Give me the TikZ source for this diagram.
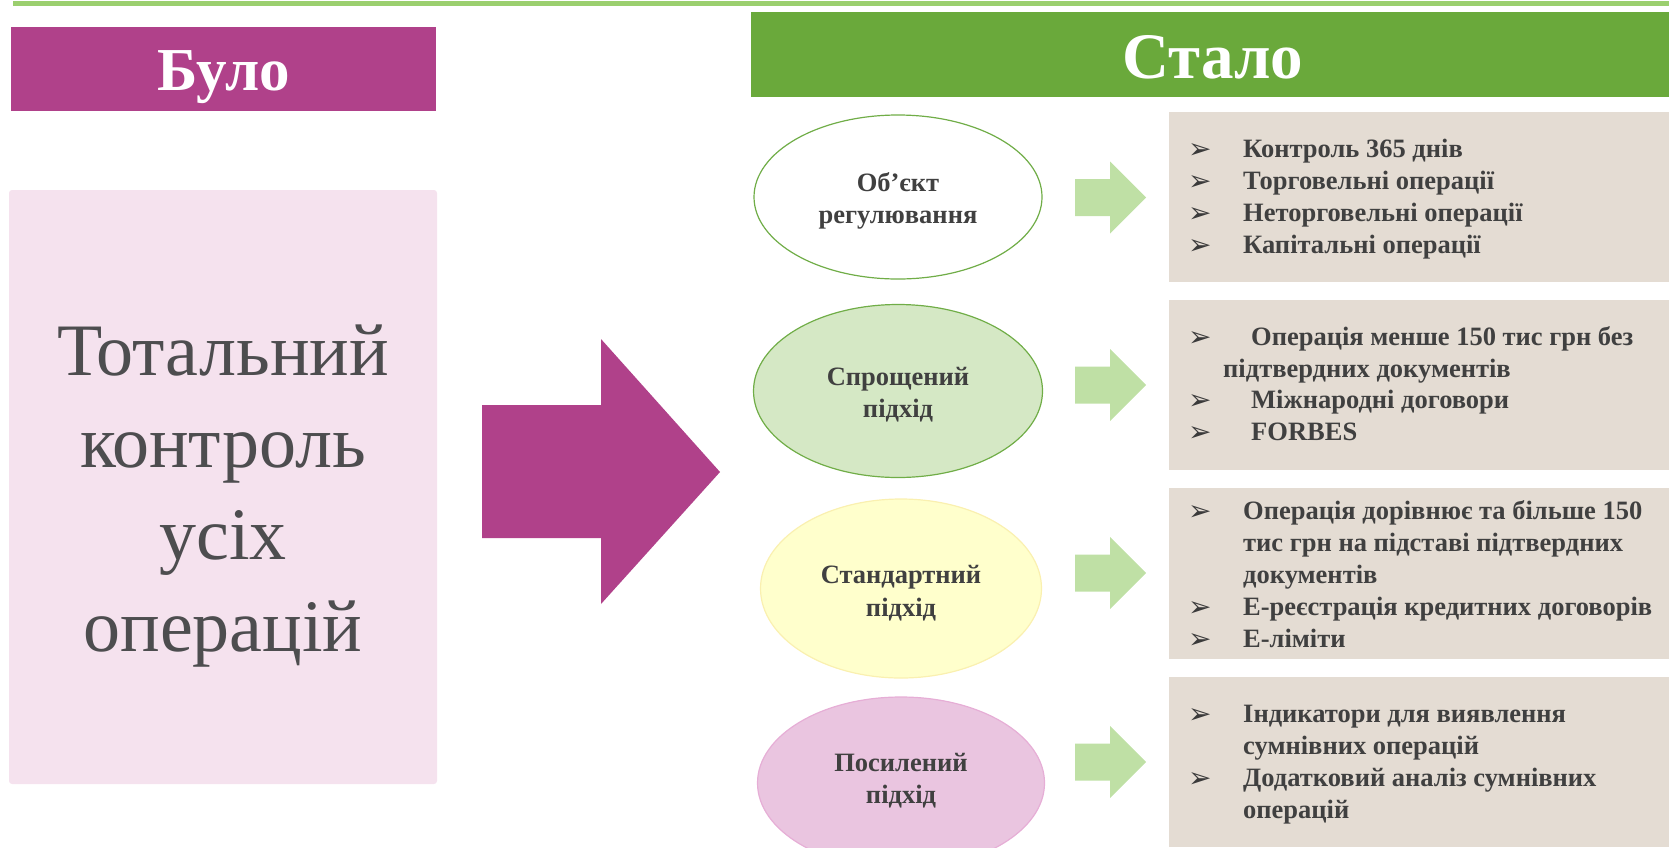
\documentclass[tikz,border=0pt]{standalone}
\usepackage{fontspec}
\setmainfont{Liberation Serif}
\newfontfamily\symfont{DejaVu Sans}
\usetikzlibrary{shapes.geometric}
\definecolor{berry}{HTML}{B0418A}
\definecolor{hdrgreen}{HTML}{6AA93B}
\definecolor{topline}{HTML}{9BCF6F}
\definecolor{pinkbg}{HTML}{F5E2EE}
\definecolor{txtgray}{HTML}{4D4D4F}
\definecolor{dark}{HTML}{404040}
\definecolor{beige}{HTML}{E4DCD3}
\definecolor{arrgreen}{HTML}{BFE0A5}
\definecolor{elgreen}{HTML}{70AD47}
\definecolor{elgreenfill}{HTML}{D5E8C5}
\definecolor{elyellow}{HTML}{FFFFCC}
\definecolor{elyellowdraw}{HTML}{FAF0B0}
\definecolor{elpink}{HTML}{EAC5E0}
\definecolor{elpinkdraw}{HTML}{E6AED6}
\tikzset{
  ell/.style={ellipse, inner sep=0pt, line width=1.2pt},
  elltxt/.style={anchor=base, inner sep=0pt, text=dark, font=\bfseries\fontsize{26.5}{32}\selectfont},
  bul/.style={anchor=west, inner sep=0pt, text=dark!90!black, font=\symfont\fontsize{28}{28}\selectfont},
  itm/.style={anchor=base west, inner sep=0pt, text=dark, font=\bfseries\fontsize{26.5}{32}\selectfont},
  smallarrow/.style={fill=arrgreen},
  hdr/.style={inner sep=0pt, text=white, font=\bfseries},
}
\begin{document}
\begin{tikzpicture}[x=1pt,y=-1pt]
\useasboundingbox (0,0) rectangle (1669,847);
\fill[topline] (13,1) rectangle (1669,6);
% headers
\node[hdr, fill=berry, minimum width=425pt, minimum height=84pt, anchor=north west] (bulo) at (11,27) {};
\node[hdr, anchor=base, font=\bfseries\fontsize{61}{61}\selectfont] (bulot) at (223.5,90) {Було};
\node[hdr, fill=hdrgreen, minimum width=918pt, minimum height=85pt, anchor=north west] (stalo) at (751,12) {};
\node[hdr, anchor=base, font=\bfseries\fontsize{65}{65}\selectfont] (stalot) at (1213,78) {Стало};
% left panel
\fill[pinkbg, rounded corners=3pt] (9,190) rectangle (437,784);
\node[align=center, text=txtgray, font=\fontsize{74}{92}\selectfont] (total) at (223,496) {Тотальний\\контроль\\усіх\\операцій};
% big arrow
\fill[berry] (482,405) -- (601,405) -- (601,339) -- (720,472) -- (601,604) -- (601,538) -- (482,538) -- cycle;
% beige boxes
\fill[beige] (1169,112) rectangle (1669,282);
\fill[beige] (1169,300) rectangle (1669,470);
\fill[beige] (1169,488) rectangle (1669,659);
\fill[beige] (1169,677) rectangle (1669,847);
% small arrows
\foreach \c in {197.5,385,573,762}{
  \fill[smallarrow] (1075,\c-18.5) -- (1110,\c-18.5) -- (1110,\c-36) -- (1146,\c) -- (1110,\c+36) -- (1110,\c+18.5) -- (1075,\c+18.5) -- cycle;
}
% ellipses
\node[ell, fill=white, draw=elgreen, minimum width=288pt, minimum height=164pt] (e1) at (898,197) {};
\node[elltxt] (e1a) at (898,191) {Об’єкт};
\node[elltxt] (e1b) at (898,223) {регулювання};
\node[ell, fill=elgreenfill, draw=elgreen, minimum width=289pt, minimum height=173pt] (e2) at (898,391) {};
\node[elltxt] (e2a) at (898,385) {Спрощений};
\node[elltxt] (e2b) at (898,417) {підхід};
\node[ell, fill=elyellow, draw=elyellowdraw, minimum width=281pt, minimum height=179pt] (e3) at (901,588.5) {};
\node[elltxt] (e3a) at (901,583) {Стандартний};
\node[elltxt] (e3b) at (901,616) {підхід};
\node[ell, fill=elpink, draw=elpinkdraw, minimum width=287pt, minimum height=172pt] (e4) at (901,783) {};
\node[elltxt] (e4a) at (901,771) {Посилений};
\node[elltxt] (e4b) at (901,803) {підхід};
% box 1
\node[bul] (b11) at (1188,151) {➢};
\node[itm] (t11) at (1243,157) {Контроль 365 днів};
\node[bul] (b12) at (1188,183) {➢};
\node[itm] (t12) at (1243,189) {Торговельні операції};
\node[bul] (b13) at (1188,215) {➢};
\node[itm] (t13) at (1243,221) {Неторговельні операції};
\node[bul] (b14) at (1188,247) {➢};
\node[itm] (t14) at (1243,253) {Капітальні операції};
% box 2
\node[bul] (b21) at (1188,339) {➢};
\node[itm] (t21) at (1251,345) {Операція менше 150 тис грн без};
\node[itm] (t22) at (1223,377) {підтвердних документів};
\node[bul] (b23) at (1188,402) {➢};
\node[itm] (t23) at (1251,408) {Міжнародні договори};
\node[bul] (b24) at (1188,434) {➢};
\node[itm] (t24) at (1251,440) {FORBES};
% box 3
\node[bul] (b31) at (1188,513) {➢};
\node[itm] (t31) at (1243,519) {Операція дорівнює та більше 150};
\node[itm] (t32) at (1243,551) {тис грн на підставі підтвердних};
\node[itm] (t33) at (1243,583) {документів};
\node[bul] (b34) at (1188,609) {➢};
\node[itm] (t34) at (1243,615) {Е-реєстрація кредитних договорів};
\node[bul] (b35) at (1188,641) {➢};
\node[itm] (t35) at (1243,647) {Е-ліміти};
% box 4
\node[bul] (b41) at (1188,716) {➢};
\node[itm] (t41) at (1243,722) {Індикатори для виявлення};
\node[itm] (t42) at (1243,754) {сумнівних операцій};
\node[bul] (b43) at (1188,780) {➢};
\node[itm] (t43) at (1243,786) {Додатковий аналіз сумнівних};
\node[itm] (t44) at (1243,818) {операцій};
\end{tikzpicture}
\end{document}
